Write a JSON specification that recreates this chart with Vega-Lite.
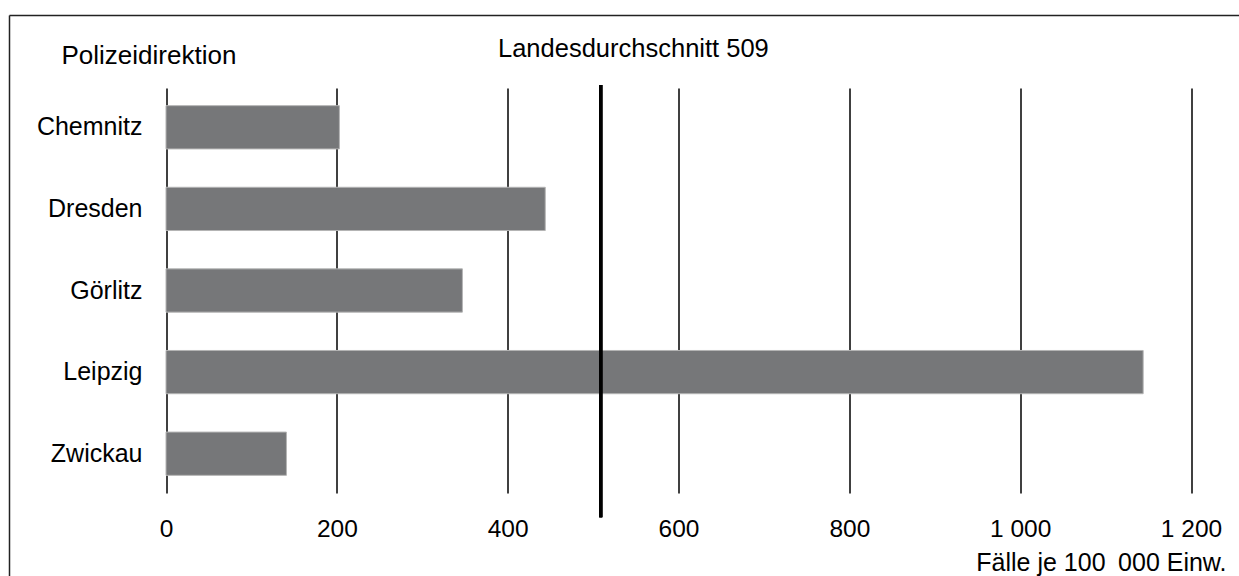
{
  "$schema": "https://vega.github.io/schema/vega-lite/v6.json",
  "autosize": {"type": "none"},
  "width": 1229.5,
  "height": 550,
  "padding": {"left": 9.5, "top": 15.5, "right": 0, "bottom": 10.5},
  "background": "white",
  "config": {
    "view": {"stroke": "#222222", "strokeWidth": 1.5, "strokeDash": [1229.5, 5000]},
    "font": "Liberation Sans",
    "axis": {"labelFont": "Liberation Sans", "titleFont": "Liberation Sans", "labelColor": "black", "titleColor": "black", "titleFontWeight": "normal"}
  },
  "title": {
    "text": "Landesdurchschnitt 509",
    "anchor": "start",
    "frame": "group",
    "dx": 488.5,
    "offset": -58.5,
    "baseline": "middle",
    "fontSize": 25.5,
    "fontWeight": "normal",
    "font": "Liberation Sans",
    "color": "black"
  },
  "data": {
    "values": [
      {"direktion": "Chemnitz", "faelle": 203},
      {"direktion": "Dresden", "faelle": 444},
      {"direktion": "Görlitz", "faelle": 347},
      {"direktion": "Leipzig", "faelle": 1144},
      {"direktion": "Zwickau", "faelle": 141}
    ]
  },
  "layer": [
    {
      "mark": {"type": "bar", "fill": "#767779", "stroke": "#b4b4b4", "strokeWidth": 1},
      "encoding": {
        "y": {
          "field": "direktion",
          "type": "nominal",
          "sort": null,
          "scale": {"range": [72.5, 477.5], "paddingInner": 0.47, "paddingOuter": 0.2165},
          "axis": {
            "title": "Polizeidirektion",
            "titleAngle": 0,
            "titleAlign": "left",
            "titleBaseline": "middle",
            "titleX": -81,
            "titleY": 40,
            "titleFontSize": 26,
            "labelFontSize": 25,
            "labelPadding": 0,
            "ticks": false,
            "domain": false,
            "grid": false,
            "offset": -132.5
          }
        },
        "x": {
          "field": "faelle",
          "type": "quantitative",
          "scale": {"domain": [0, 1200], "range": [156.5, 1181.5], "nice": false, "zero": true},
          "axis": {
            "values": [0, 200, 400, 600, 800, 1000, 1200],
            "labelExpr": "replace(format(datum.value, ','), ',', ' ')",
            "labelFontSize": 24.5,
            "labelBaseline": "middle",
            "labelFlush": false,
            "labelPadding": 0,
            "ticks": false,
            "domain": false,
            "grid": true,
            "gridColor": "black",
            "gridWidth": 1.5,
            "gridOpacity": 1,
            "offset": -36.5,
            "title": "Fälle je 100\u2002000 Einw.",
            "titleFontSize": 25,
            "titleAlign": "right",
            "titleBaseline": "middle",
            "titleX": 1216.5,
            "titleY": 33
          }
        }
      }
    },
    {
      "mark": {"type": "rule", "color": "black", "strokeWidth": 3},
      "encoding": {
        "x": {"datum": 509, "type": "quantitative"},
        "y": {
          "datum": 0.105,
          "type": "quantitative",
          "scale": {"domain": [0, 1], "range": [560.5, 0], "nice": false, "zero": false},
          "axis": {
            "orient": "left",
            "title": null,
            "labels": false,
            "ticks": false,
            "grid": false,
            "domain": true,
            "domainColor": "#222222",
            "domainWidth": 1.5,
            "offset": 0,
            "translate": 0
          }
        },
        "y2": {"datum": 0.876}
      }
    }
  ],
  "resolve": {"scale": {"y": "independent"}}
}
